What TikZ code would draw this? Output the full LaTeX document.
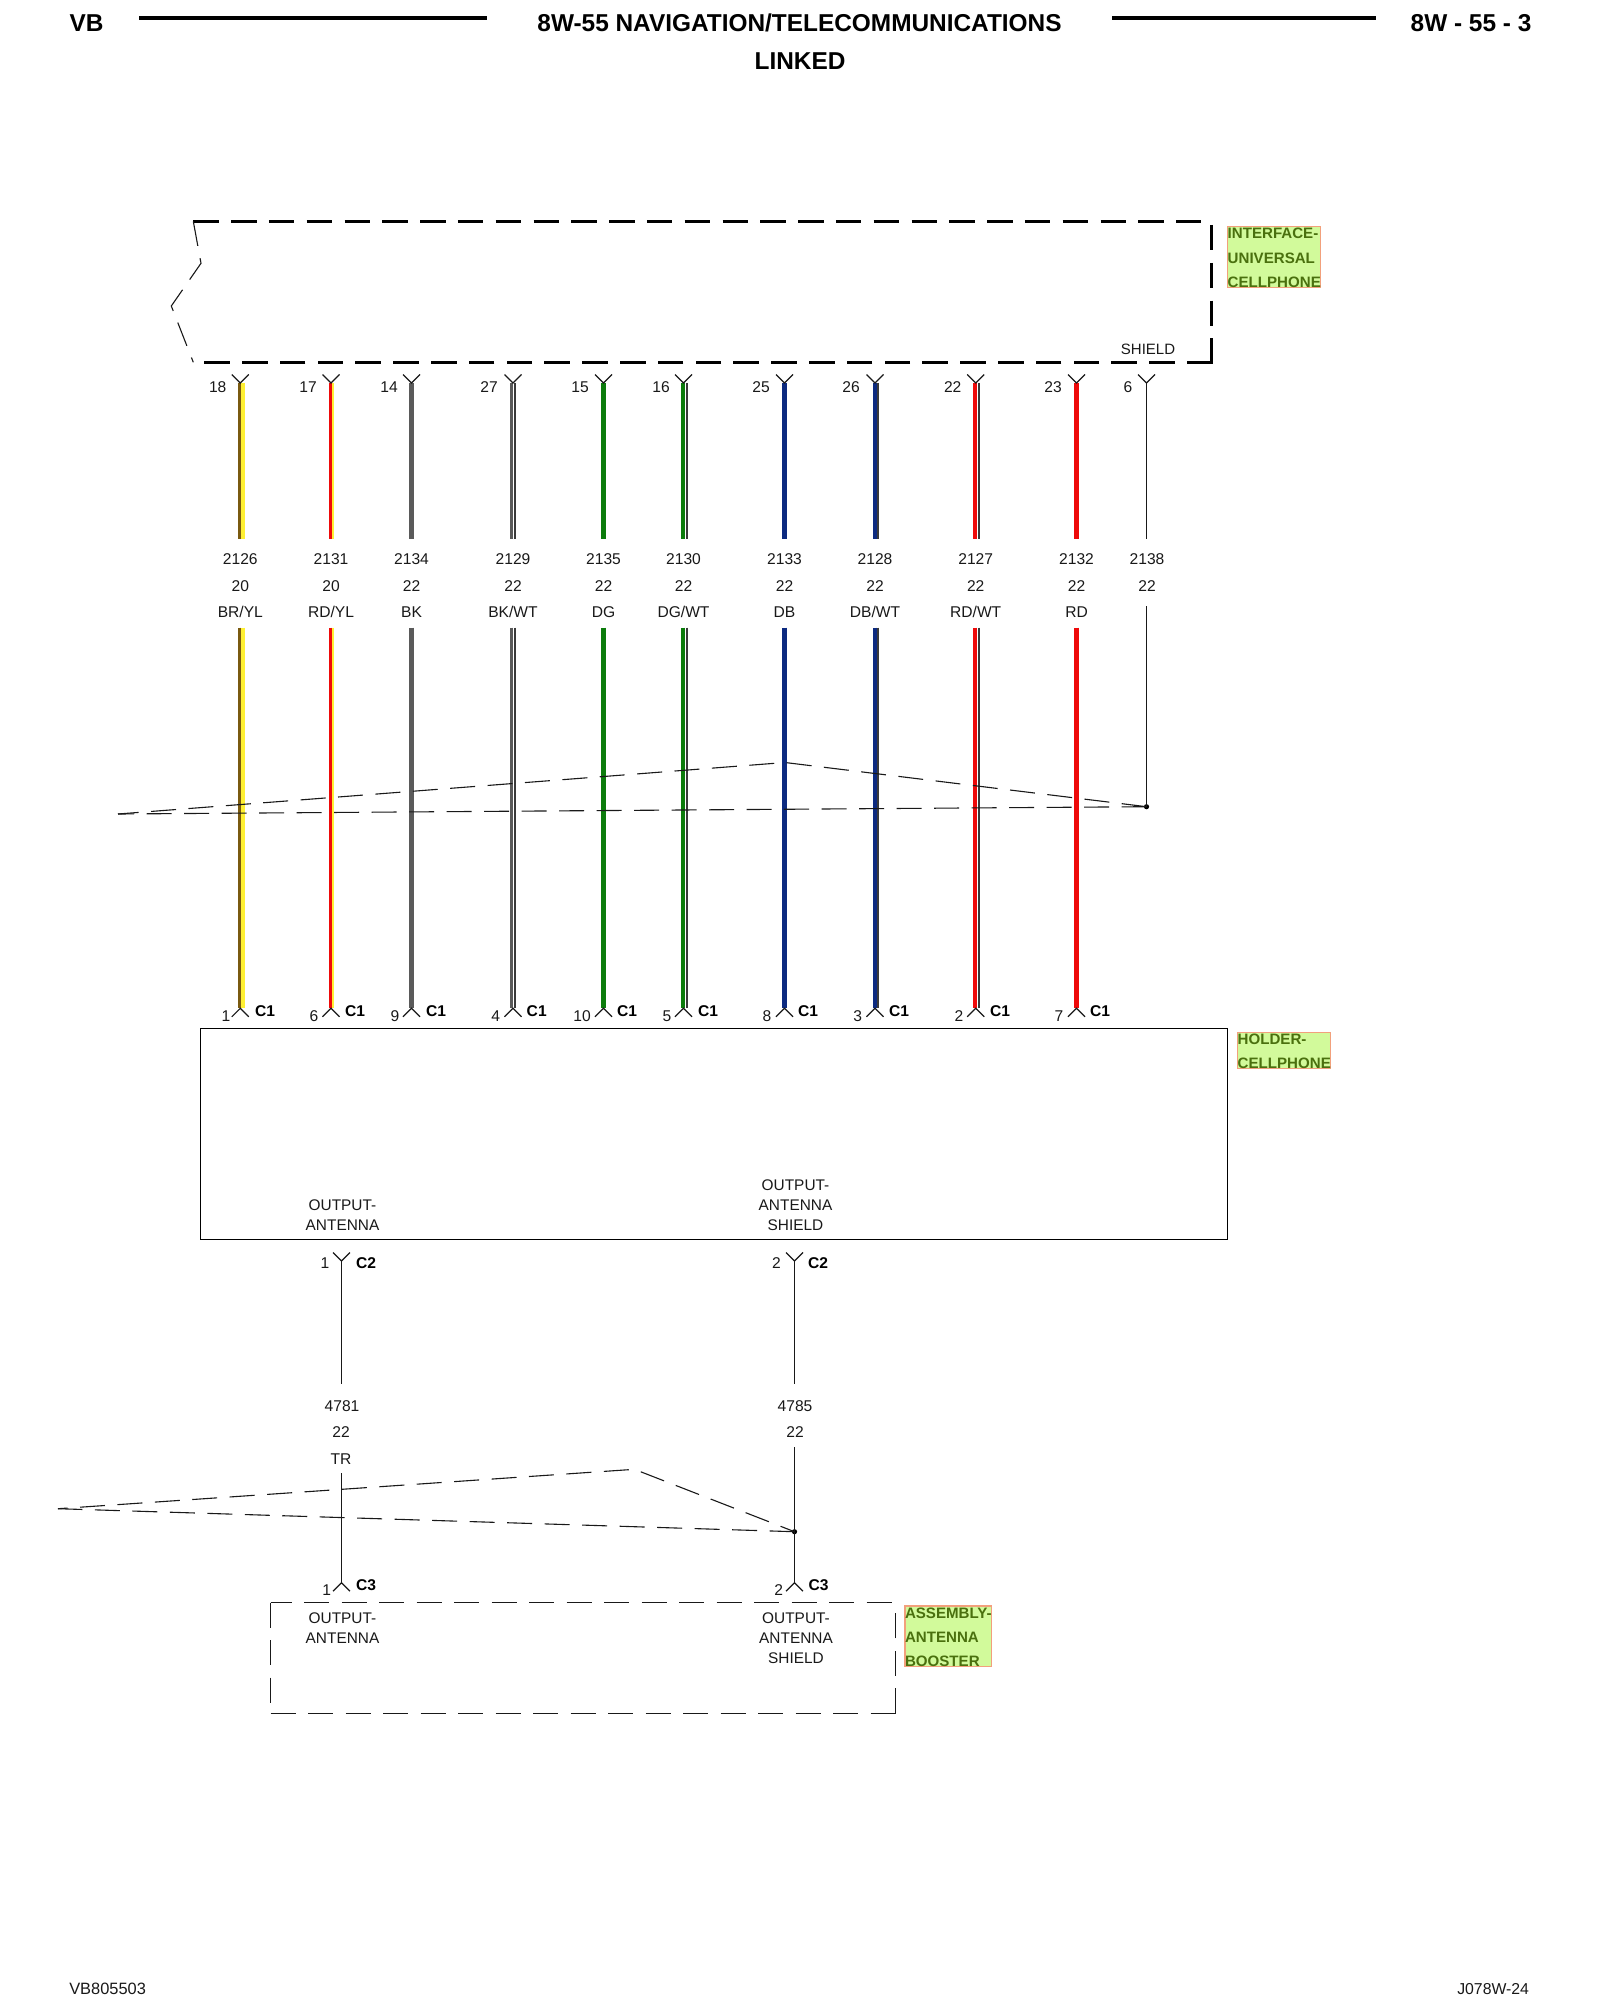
\documentclass[tikz,border=0pt]{standalone}
\usepackage{fontspec}
\setmainfont{Liberation Sans}
\usetikzlibrary{calc}
\definecolor{wbrown}{HTML}{7A5A10}
\definecolor{wyellow}{HTML}{FFF033}
\definecolor{wred}{HTML}{EE0A0A}
\definecolor{wgray}{HTML}{5A5A5A}
\definecolor{wgreen}{HTML}{0C7C0C}
\definecolor{wblue}{HTML}{0C2A80}
\definecolor{wdark}{HTML}{3A3A3A}
\definecolor{tagfill}{HTML}{D2FA9B}
\definecolor{tagedge}{HTML}{F2A07C}
\definecolor{tagtext}{HTML}{4A700E}
\tikzset{
  txt/.style={inner sep=0pt,outer sep=0pt,text depth=0pt,text height=5.6pt,font=\fontsize{7.8}{9}\selectfont,text=black!90},
  ctag/.style={txt,font=\fontsize{7.8}{9}\selectfont\bfseries,text=black},
  title/.style={inner sep=0pt,outer sep=0pt,text depth=0pt,text height=8.6pt,font=\fontsize{12.2}{14}\selectfont\bfseries},
  tagtxt/.style={inner sep=0pt,outer sep=0pt,text depth=0pt,text height=5.5pt,anchor=west,font=\fontsize{7.55}{9}\selectfont\bfseries,text=tagtext},
  tagbox/.style={draw=tagedge,fill=tagfill,line width=0.6pt,inner sep=0pt,outer sep=0pt,anchor=north west},
  thin wire/.style={line width=0.6pt,black!90},
  bigdash/.style={line width=1.5pt,black,dash pattern=on 12.75pt off 6.15pt},
  smalldash/.style={line width=0.55pt,black!90,dash pattern=on 12.5pt off 6.25pt},
  headrule/.style={line width=1.8pt,black},
  component/.style={draw=black,line width=0.6pt,inner sep=0pt,outer sep=0pt,anchor=north west},
  junction/.style={circle,fill=black,inner sep=0pt,minimum size=2.6pt}
}
\newcommand{\myYtop}[1]{\draw[thin wire] ($(#1)+(-8.5,-8.5)$) -- (#1) -- ($(#1)+(8.5,-8.5)$);}
\newcommand{\myYbot}[1]{\draw[thin wire] ($(#1)+(-8.5,8.5)$) -- (#1) -- ($(#1)+(8.5,8.5)$);}
\begin{document}
\begin{tikzpicture}[x=0.5pt,y=-0.5pt]
\useasboundingbox (0,0) rectangle (1600,2000);
\fill[white] (0,0) rectangle (1600,2000);

% header
\node[title] (hvb) at (86.5,23) {VB};
\node[title] (htitle) at (799.5,23) {8W-55 NAVIGATION/TELECOMMUNICATIONS};
\node[title] (hpage) at (1471,23) {8W - 55 - 3};
\node[title] (hlinked) at (800,61) {LINKED};
\coordinate (ra) at (139,18.3); \coordinate (rb) at (487,18.3);
\coordinate (rc) at (1112,18.3); \coordinate (rd) at (1376,18.3);
\draw[headrule] (ra) -- (rb);
\draw[headrule] (rc) -- (rd);

% footer
\node[txt,anchor=west,font=\fontsize{8.2}{9}\selectfont] (fl) at (69.3,1989.3) {VB805503};
\node[txt,anchor=east,font=\fontsize{7.9}{9}\selectfont] (fr) at (1529,1989.3) {J078W-24};

% interface outline
\coordinate (ia) at (193.3,221.3); \coordinate (ib) at (1200.5,221.3);
\coordinate (ic) at (1211.7,225); \coordinate (id) at (1211.7,362.3);
\coordinate (ie) at (1212.5,362.3); \coordinate (if) at (203,362.3);
\coordinate (iz1) at (201,263.3); \coordinate (iz2) at (171.3,306); \coordinate (iz3) at (193.3,362.3);
\draw[bigdash] (ia) -- (ib);
\draw[bigdash] (ic) -- (id);
\draw[bigdash] (ie) -- (if);
\draw[smalldash] (ia) -- (iz1) -- (iz2) -- (iz3);
\node[txt,font=\fontsize{7.5}{9}\selectfont] (shield) at (1148,348.7) {SHIELD};

% green tags
\node[tagbox,minimum width=46.2pt,minimum height=30.5pt] (tag1) at (1227.7,226.7) {};
\node[tagtxt] (tag1a) at (1227.7,233.3) {INTERFACE-};
\node[tagtxt] (tag1b) at (1227.7,257.7) {UNIVERSAL};
\node[tagtxt] (tag1c) at (1227.7,281.7) {CELLPHONE};
\node[tagbox,minimum width=46.2pt,minimum height=18pt] (tag2) at (1237.7,1032.3) {};
\node[tagtxt] (tag2a) at (1237.7,1039) {HOLDER-};
\node[tagtxt] (tag2b) at (1237.7,1062.7) {CELLPHONE};
\node[tagbox,minimum width=43.2pt,minimum height=30.3pt] (tag3) at (905,1606) {};
\node[tagtxt] (tag3a) at (905,1613.3) {ASSEMBLY-};
\node[tagtxt] (tag3b) at (905,1637.3) {ANTENNA};
\node[tagtxt] (tag3c) at (905,1661) {BOOSTER};

% wire anchors and labels
\foreach \i/\x/\px/\p/\cn/\g/\col/\bx/\bp/\cx in {
 1/240.3/217.7/18/2126/20/BR\slash YL/226/1/265,
 2/331/308/17/2131/20/RD\slash YL/314/6/355,
 3/411.5/389/14/2134/22/BK/395/9/436,
 4/513/489/27/2129/22/BK\slash WT/495.7/4/536.7,
 5/603.5/580/15/2135/22/DG/582/10/627,
 6/683.5/661/16/2130/22/DG\slash WT/667/5/708,
 7/784.5/761/25/2133/22/DB/767/8/808,
 8/875/851/26/2128/22/DB\slash WT/857.7/3/899,
 9/975.7/952.7/22/2127/22/RD\slash WT/959/2/1000,
 10/1076.5/1053/23/2132/22/RD/1059/7/1100}{
  \coordinate (t\i) at (\x,383);
  \coordinate (e\i) at (\x,539);
  \coordinate (s\i) at (\x,627.7);
  \coordinate (b\i) at (\x,1008.3);
  \node[txt] (pt\i) at (\px,386.7) {\p};
  \node[txt] (cn\i) at (\x,559) {\cn};
  \node[txt] (ga\i) at (\x,586) {\g};
  \node[txt] (co\i) at (\x,612) {\col};
  \node[txt] (pb\i) at (\bx,1015.7) {\bp};
  \node[ctag] (cc\i) at (\cx,1011) {C1};
}

% main wire colour strips: name / offset / width (px) / colour
\foreach \i/\d/\w/\c in {
 1/-0.5/3/wbrown, 1/2.9/3.8/wyellow,
 2/-0.5/3.6/wred, 2/2.1/1.7/wyellow,
 3/0/5/wgray,
 4/-1.35/3.3/wgray, 4/2.1/1.8/wdark,
 5/0/5/wgreen,
 6/-0.5/4/wgreen, 6/3.4/1.7/wdark,
 7/0/5/wblue,
 8/0/3.6/wblue, 8/3.2/1.7/wdark,
 9/-0.7/4/wred, 9/3.2/1.5/wdark,
 10/0/5/wred}{
  \pgfmathsetmacro{\lw}{\w*0.5}
  \draw[line width=\lw pt,\c] ($(t\i)+(\d,0)$) -- ($(e\i)+(\d,0)$);
  \draw[line width=\lw pt,\c] ($(s\i)+(\d,0)$) -- ($(b\i)+(\d,0)$);
}
\foreach \i in {1,...,10}{\myYtop{t\i}\myYbot{b\i}}

% shield wire 2138
\coordinate (t11) at (1146.5,383); \coordinate (e11) at (1146.5,539);
\coordinate (s11) at (1146.5,606);
\node[junction] (j1) at (1146.5,806.7) {};
\node[txt] (pt11) at (1128,386.7) {6};
\node[txt] (cn11) at (1147,559) {2138};
\node[txt] (ga11) at (1147,586) {22};
\myYtop{t11}
\draw[thin wire] (t11) -- (e11);
\draw[thin wire] (s11) -- (j1.center);

% shield loop 1
\coordinate (l1a) at (785,762.5); \coordinate (l1b) at (118,814);
\draw[smalldash] (j1.center) -- (l1a) -- (l1b);
\draw[smalldash] (j1.center) -- (l1b);

% holder component
\node[component,minimum width=513.5pt,minimum height=105.3pt] (holder) at (200.3,1028.7) {};
\node[txt,font=\fontsize{7.7}{9}\selectfont] (h1a) at (342.5,1205) {OUTPUT-};
\node[txt,font=\fontsize{7.7}{9}\selectfont] (h1b) at (342.5,1225) {ANTENNA};
\node[txt,font=\fontsize{7.7}{9}\selectfont] (h2a) at (795.5,1185) {OUTPUT-};
\node[txt,font=\fontsize{7.7}{9}\selectfont] (h2b) at (795.5,1205) {ANTENNA};
\node[txt,font=\fontsize{7.7}{9}\selectfont] (h2c) at (795.5,1225) {SHIELD};

% antenna wires
\coordinate (at) at (341.5,1261); \coordinate (ae) at (341.5,1384.3);
\coordinate (as) at (341.5,1473.3); \coordinate (ab) at (341.5,1582.7);
\coordinate (st) at (794.5,1261); \coordinate (se) at (794.5,1384.3);
\coordinate (ss) at (794.5,1447.3); \coordinate (sb) at (794.5,1582.7);
\node[junction] (j2) at (794.5,1531.7) {};
\draw[thin wire] (at) -- (ae);
\draw[thin wire] (as) -- (ab);
\draw[thin wire] (st) -- (se);
\draw[thin wire] (ss) -- (sb);
\myYtop{at}\myYtop{st}\myYbot{ab}\myYbot{sb}
\node[txt] (p1c2) at (325,1263.3) {1};
\node[ctag] (c1c2) at (366,1263) {C2};
\node[txt] (p2c2) at (776.4,1263.3) {2};
\node[ctag] (c2c2) at (818,1263) {C2};
\node[txt] (n4781) at (342,1405.7) {4781};
\node[txt] (g4781) at (341,1432) {22};
\node[txt] (ctr) at (341,1458.7) {TR};
\node[txt] (n4785) at (795,1405.7) {4785};
\node[txt] (g4785) at (795,1432) {22};
\node[txt] (p1c3) at (326.7,1590) {1};
\node[ctag] (c1c3) at (366,1585) {C3};
\node[txt] (p2c3) at (778.8,1590) {2};
\node[ctag] (c2c3) at (818.6,1585) {C3};

% shield loop 2
\coordinate (l2a) at (634.4,1469.3); \coordinate (l2b) at (58,1508.7);
\draw[smalldash,dash phase=5pt] (j2.center) -- (l2a) -- (l2b);
\draw[smalldash] (j2.center) -- (l2b);

% assembly outline
\coordinate (ba) at (270.6,1602.7); \coordinate (bb) at (895.6,1602.7);
\coordinate (bc) at (895.6,1713.3); \coordinate (bd) at (270.6,1713.3);
\draw[smalldash,dash phase=2pt] (ba) -- (bb);
\draw[smalldash] (ba) -- (bd);
\draw[smalldash] (bd) -- (bc);
\draw[smalldash] (bc) -- (bb);
\node[txt,font=\fontsize{7.7}{9}\selectfont] (b1a) at (342.5,1617.7) {OUTPUT-};
\node[txt,font=\fontsize{7.7}{9}\selectfont] (b1b) at (342.5,1638) {ANTENNA};
\node[txt,font=\fontsize{7.7}{9}\selectfont] (b2a) at (796,1617.7) {OUTPUT-};
\node[txt,font=\fontsize{7.7}{9}\selectfont] (b2b) at (796,1638) {ANTENNA};
\node[txt,font=\fontsize{7.7}{9}\selectfont] (b2c) at (796,1658) {SHIELD};
\end{tikzpicture}
\end{document}
